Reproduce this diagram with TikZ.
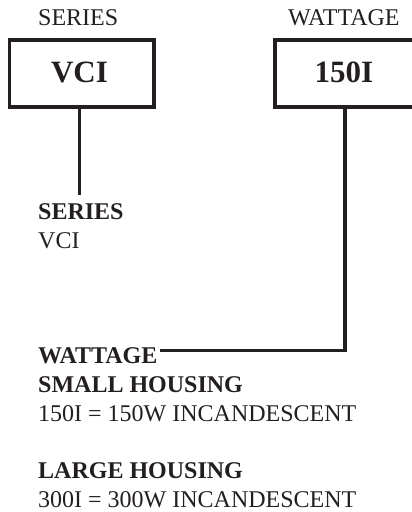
\documentclass[tikz,border=0pt]{standalone}
\usepackage{fontspec}
\setmainfont{Liberation Serif}
\definecolor{ink}{HTML}{231F20}
\begin{document}
\begin{tikzpicture}[x=1pt,y=1pt,
  lbl/.style={anchor=base west,inner sep=0pt,text=ink,font=\fontsize{24}{29}\selectfont},
  boldlbl/.style={lbl,font=\fontsize{24}{29}\selectfont\bfseries},
  codebox/.style={draw=ink,line width=3.6pt,rectangle,inner sep=0pt,minimum height=66.7pt},
  codetext/.style={text=ink,inner sep=0pt,font=\fontsize{31}{36}\selectfont\bfseries},
  conn/.style={draw=ink,line width=3.6pt}]
\clip (0,0) rectangle (412,-512);
\useasboundingbox (0,0) rectangle (412,-512);
% top labels
\node[lbl] (tser) at (38,-25) {SERIES};
\node[lbl] (twat) at (288,-25) {WATTAGE};
% boxes
\node[codebox,minimum width=144.5pt] (vci) at (81.7,-73.6) {};
\node[codetext] (vcit) at (79.5,-72.5) {VCI};
\node[codebox,minimum width=160pt] (wbox) at (354.7,-73.6) {};
\node[codetext] (wt) at (344,-72.5) {150I};
% bottom labels
\node[boldlbl] (bser) at (38,-219) {SERIES};
\node[lbl] (bvci) at (38,-248) {VCI};
\node[boldlbl] (bwat) at (38,-363) {WATTAGE};
\node[boldlbl] (small) at (38,-392) {SMALL HOUSING};
\node[lbl] (s150) at (38,-421) {150I = 150W INCANDESCENT};
\node[boldlbl] (large) at (38,-478) {LARGE HOUSING};
\node[lbl] (l300) at (38,-507) {300I = 300W INCANDESCENT};
% connectors
\coordinate (c1) at (79.5,-195);
\coordinate (c2) at (344.7,-350.3);
\coordinate (c3) at (160,-350.3);
\draw[conn] (c1 |- vci.south) -- (c1);
\draw[conn] (c2 |- wbox.south) -- (c2) -- (c3);
\end{tikzpicture}
\end{document}
